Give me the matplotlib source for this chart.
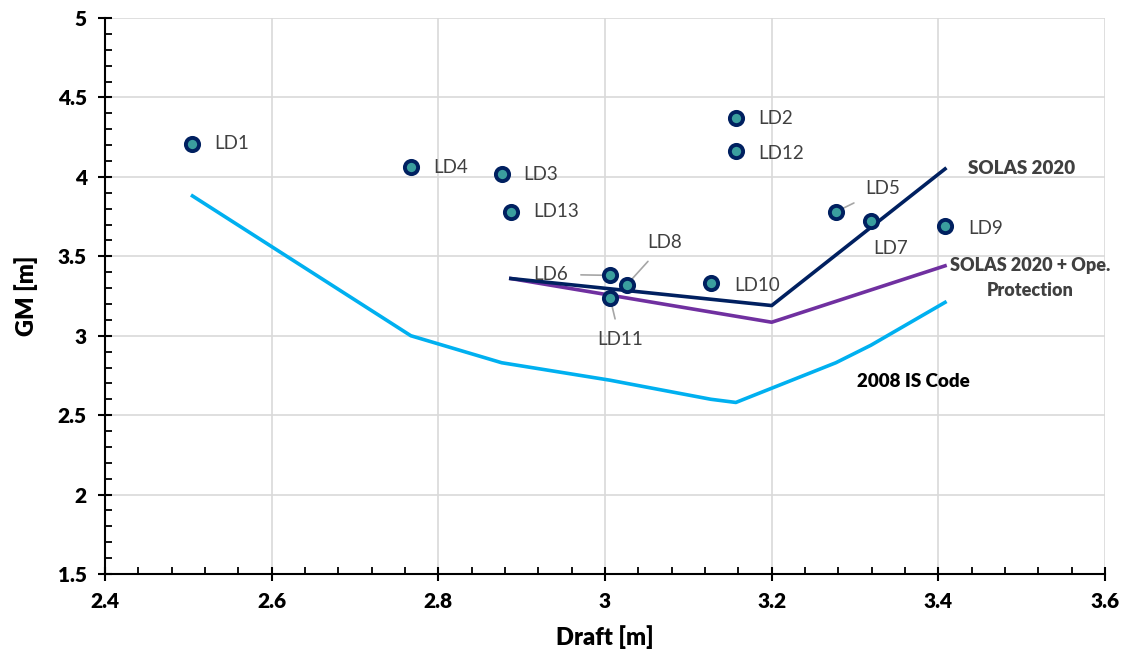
"""GM vs draft: loading conditions against stability criteria."""

import matplotlib.pyplot as plt
from matplotlib.ticker import AutoMinorLocator, MultipleLocator

plt.rcParams["font.family"] = ["Lato", "DejaVu Sans"]

# loading conditions
ld_names = ["LD1", "LD2", "LD3", "LD4", "LD5", "LD6", "LD7", "LD8", "LD9", "LD10", "LD11", "LD12", "LD13"]
ld_draft = [2.505, 3.157, 2.876, 2.767, 3.277, 3.006, 3.319, 3.026, 3.408, 3.127, 3.006, 3.157, 2.887]
ld_gm = [4.21, 4.37, 4.02, 4.06, 3.78, 3.38, 3.72, 3.32, 3.69, 3.33, 3.24, 4.16, 3.78]

# criteria curves
is2008_draft = [2.505, 2.767, 2.876, 3.006, 3.026, 3.127, 3.157, 3.277, 3.319, 3.408]
is2008_gm = [3.88, 3.00, 2.83, 2.72, 2.70, 2.60, 2.58, 2.83, 2.94, 3.21]
solas_draft = [2.887, 3.20, 3.408]
solas_gm = [3.36, 3.19, 4.05]
solas_ope_draft = [2.887, 3.20, 3.408]
solas_ope_gm = [3.36, 3.085, 3.44]

# label offsets in pixels (dx, dy, leader line?)
label_pos = {
    "LD1": (22, 0, False), "LD2": (22, 0, False), "LD3": (22, -1, False),
    "LD4": (22, 0, False), "LD5": (47, 23, True), "LD6": (-59, 1, True),
    "LD7": (2, -27, False), "LD8": (38, 42, True), "LD9": (23, -2, False),
    "LD10": (23, -2, False), "LD11": (10, -42, True), "LD12": (22, -2, False),
    "LD13": (22, 0, False),
}

fig = plt.figure(figsize=(11.35, 6.62), dpi=100)
ax = fig.add_axes([0.0925, 0.1329, 0.8811, 0.8399])

ax.plot(is2008_draft, is2008_gm, color="#00B0F0", lw=2.6, zorder=2)
ax.plot(solas_ope_draft, solas_ope_gm, color="#7030A0", lw=2.6, zorder=2)
ax.plot(solas_draft, solas_gm, color="#002060", lw=2.6, zorder=2)
ax.plot(ld_draft, ld_gm, "o", ms=9.5, mfc="#3A9E9E", mec="#002060", mew=2.8, zorder=4)

for name, x, y in zip(ld_names, ld_draft, ld_gm):
    dx, dy, leader = label_pos[name]
    if leader:
        ax.annotate(
            name, xy=(x, y), xytext=(dx, dy), textcoords="offset pixels",
            ha="center", va="center", fontsize=13.5, color="#404040",
            arrowprops=dict(arrowstyle="-", color="#A6A6A6", lw=1.2, shrinkA=7, shrinkB=0),
            zorder=3,
        )
    else:
        ax.annotate(
            name, xy=(x, y), xytext=(dx, dy), textcoords="offset pixels",
            ha="left", va="center", fontsize=13.5, color="#404040", zorder=3,
        )

ax.text(3.436, 4.05, "SOLAS 2020", fontsize=13.5, fontweight="heavy", color="#404040", va="center")
ax.text(3.51, 3.363, "SOLAS 2020 + Ope.\nProtection", fontsize=13, fontweight="heavy", color="#404040",
        va="center", ha="center", linespacing=1.55)
ax.text(3.302, 2.715, "2008 IS Code", fontsize=13.5, fontweight="heavy", color="#000000", va="center")

ax.set_xlim(2.4, 3.6)
ax.set_ylim(1.5, 5)
ax.xaxis.set_major_locator(MultipleLocator(0.2))
ax.yaxis.set_major_locator(MultipleLocator(0.5))
ax.xaxis.set_minor_locator(AutoMinorLocator(5))
ax.yaxis.set_minor_locator(AutoMinorLocator(5))
ax.xaxis.set_major_formatter(lambda v, p: f"{v:g}")
ax.yaxis.set_major_formatter(lambda v, p: f"{v:g}")
ax.tick_params(which="major", direction="inout", length=10, width=1.5, labelsize=15, pad=8)
ax.tick_params(which="minor", direction="in", length=5, width=1.3)
for lbl in ax.get_xticklabels() + ax.get_yticklabels():
    lbl.set_fontweight("heavy")

ax.grid(True, which="major", color="#D9D9D9", lw=1.2)
ax.set_axisbelow(True)
for side in ("top", "right"):
    ax.spines[side].set_visible(False)
for side in ("left", "bottom"):
    ax.spines[side].set_linewidth(1.5)

ax.set_xlabel("Draft [m]", fontsize=17, fontweight="heavy", labelpad=10)
ax.set_ylabel("GM [m]", fontsize=17, fontweight="heavy", labelpad=14)

fig.savefig("out.png", dpi=100)
